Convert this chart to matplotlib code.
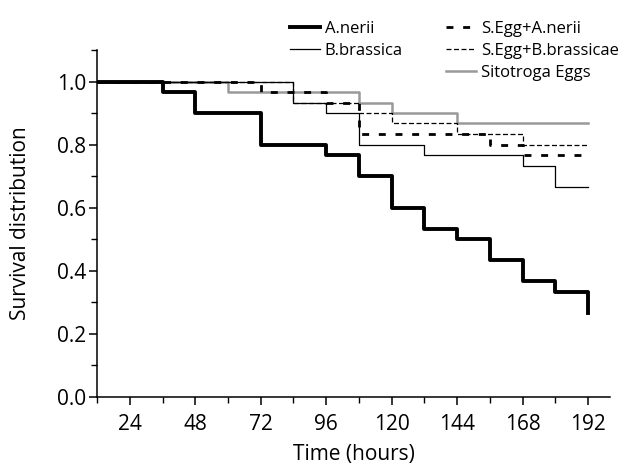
import matplotlib.pyplot as plt
from matplotlib.lines import Line2D
from matplotlib.ticker import MultipleLocator

plt.rcParams['font.family'] = ['Open Sans', 'DejaVu Sans']

# survival steps (time in hours, survival proportion)
t_anerii = [12, 36, 48, 72, 96, 108, 120, 132, 144, 156, 168, 180, 192]
s_anerii = [1.0, 0.967, 0.9, 0.8, 0.767, 0.7, 0.6, 0.533, 0.5, 0.433, 0.367, 0.333, 0.267]

t_bbrass = [12, 84, 96, 108, 132, 168, 180, 192]
s_bbrass = [1.0, 0.933, 0.9, 0.8, 0.767, 0.733, 0.667, 0.667]

t_segg_an = [12, 72, 96, 108, 156, 168, 192]
s_segg_an = [1.0, 0.967, 0.933, 0.833, 0.8, 0.767, 0.767]

t_segg_bb = [12, 84, 108, 120, 144, 168, 192]
s_segg_bb = [1.0, 0.933, 0.9, 0.867, 0.833, 0.8, 0.8]

t_sito = [12, 60, 108, 120, 144, 192]
s_sito = [1.0, 0.967, 0.933, 0.9, 0.867, 0.867]

fig = plt.figure(figsize=(6.18, 4.67), dpi=100)
ax = fig.add_axes([0.157, 0.15, 0.83, 0.743])

ax.plot(t_sito, s_sito, drawstyle='steps-post', color='#999999', lw=1.8, label='Sitotroga Eggs')
ax.plot(t_segg_bb, s_segg_bb, drawstyle='steps-post', color='black', lw=0.9,
        dashes=(4, 2), label='S.Egg+B.brassicae')
ax.plot(t_segg_an, s_segg_an, drawstyle='steps-post', color='black', lw=2.0,
        dashes=(2.5, 3.5), label='S.Egg+A.nerii')
ax.plot(t_bbrass, s_bbrass, drawstyle='steps-post', color='black', lw=0.9, label='B.brassica')
ax.plot(t_anerii, s_anerii, drawstyle='steps-post', color='black', lw=2.8, label='A.nerii')

ax.set_xlim(12, 200)
ax.set_ylim(0, 1.1)
ax.xaxis.set_minor_locator(MultipleLocator(12))
ax.yaxis.set_minor_locator(MultipleLocator(0.1))
ax.set_xticks([24, 48, 72, 96, 120, 144, 168, 192])
ax.set_yticks([0.0, 0.2, 0.4, 0.6, 0.8, 1.0])
ax.set_yticklabels(['0.0', '0.2', '0.4', '0.6', '0.8', '1.0'])

for s in ['top', 'right']:
    ax.spines[s].set_visible(False)
for s in ['left', 'bottom']:
    ax.spines[s].set_linewidth(1.1)
ax.tick_params(which='major', direction='out', length=6, width=1.1, labelsize=15)
ax.tick_params(axis='x', which='major', pad=6)
ax.tick_params(axis='y', which='major', pad=2)
ax.tick_params(which='minor', direction='out', length=4, width=1.0)

ax.set_xlabel('Time (hours)', fontsize=15)
ax.set_ylabel('Survival distribution', fontsize=15)
ax.xaxis.set_label_coords(0.5, -0.135)
ax.yaxis.set_label_coords(-0.128, 0.5)

h = {l.get_label(): l for l in ax.get_lines()}
blank = Line2D([], [], color='none')
handles = [h['A.nerii'], h['B.brassica'], blank,
           h['S.Egg+A.nerii'], h['S.Egg+B.brassicae'], h['Sitotroga Eggs']]
labels = ['A.nerii', 'B.brassica', '', 'S.Egg+A.nerii', 'S.Egg+B.brassicae', 'Sitotroga Eggs']
fig.legend(handles, labels, ncol=2, frameon=False, fontsize=12,
           loc='upper left', bbox_to_anchor=(0.469, 0.955), borderpad=0, borderaxespad=0,
           handlelength=1.8, handletextpad=0.3, columnspacing=2.6, labelspacing=0.36)

fig.savefig('out.png', dpi=100)
